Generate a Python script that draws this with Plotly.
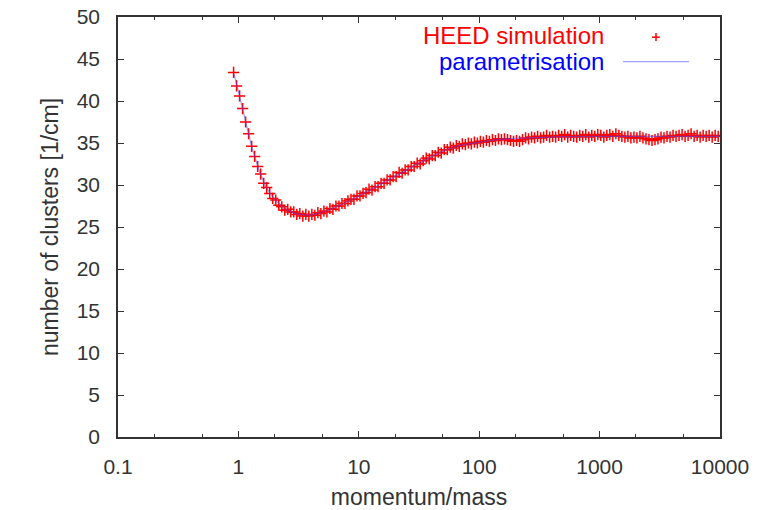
import plotly.graph_objects as go

# ---------------- data ----------------
# HEED simulation: momentum/mass values (log-spaced samples) and cluster counts
heed_x = [0.912, 0.966,
          1.023, 1.084, 1.148, 1.216, 1.288, 1.365, 1.445, 1.531, 1.622, 1.718,
          1.820, 1.928, 2.042, 2.163, 2.291, 2.427, 2.570, 2.723, 2.884, 3.055,
          3.236, 3.428, 3.631, 3.846, 4.074, 4.315, 4.571, 4.842, 5.129, 5.433,
          5.754, 6.095, 6.457, 6.839, 7.244, 7.674, 8.128, 8.610, 9.120, 9.661,
          10.23, 10.84, 11.48, 12.16, 12.88, 13.65, 14.45, 15.31, 16.22, 17.18,
          18.20, 19.28, 20.42, 21.63, 22.91, 24.27, 25.70, 27.23, 28.84, 30.55,
          32.36, 34.28, 36.31, 38.46, 40.74, 43.15, 45.71, 48.42, 51.29, 54.33,
          57.54, 60.95, 64.57, 68.39, 72.44, 76.74, 81.28, 86.10, 91.20, 96.61,
          102.3, 108.4, 114.8, 121.6, 128.8, 136.5, 144.5, 153.1, 162.2, 171.8,
          182.0, 192.8, 204.2, 216.3, 229.1, 242.7, 257.0, 272.3, 288.4, 305.5,
          323.6, 342.8, 363.1, 384.6, 407.4, 431.5, 457.1, 484.2, 512.9, 543.3,
          575.4, 609.5, 645.7, 683.9, 724.4, 767.4, 812.8, 861.0, 912.0, 966.1,
          1023, 1084, 1148, 1216, 1288, 1365, 1445, 1531, 1622, 1718,
          1820, 1928, 2042, 2163, 2291, 2427, 2570, 2723, 2884, 3055,
          3236, 3428, 3631, 3846, 4074, 4315, 4571, 4842, 5129, 5433,
          5754, 6095, 6457, 6839, 7244, 7674, 8128, 8610, 9120, 9661]

heed_y = [43.4, 41.8,
          40.6, 39.1, 37.5, 36.1, 34.6, 33.4, 32.2, 31.3, 30.2, 29.7,
          29.0, 28.4, 28.2, 27.6, 27.4, 27.0, 27.1, 26.8, 26.8, 26.5,
          26.6, 26.3, 26.5, 26.3, 26.5, 26.4, 26.7, 26.6, 26.9, 26.8,
          27.2, 27.1, 27.5, 27.5, 27.8, 27.8, 28.1, 28.3, 28.3, 28.7,
          28.7, 29.0, 29.1, 29.5, 29.4, 29.8, 29.8, 30.2, 30.2, 30.6,
          30.6, 31.0, 31.0, 31.5, 31.4, 31.8, 31.8, 32.2, 32.2, 32.6,
          32.5, 32.9, 33.2, 33.1, 33.5, 33.5, 33.9, 33.8, 34.2, 34.2,
          34.5, 34.4, 34.7, 34.6, 34.9, 34.8, 35.0, 34.9, 35.1, 35.0,
          35.2, 35.1, 35.3, 35.2, 35.4, 35.3, 35.5, 35.4, 35.5, 35.4,
          35.3, 35.2, 35.3, 35.2, 35.4, 35.6, 35.5, 35.7, 35.6, 35.8,
          35.6, 35.7, 35.9, 35.7, 35.8, 35.7, 35.9, 35.8, 36.0, 35.7,
          35.9, 35.8, 35.7, 35.9, 35.8, 36.0, 35.7, 35.9, 35.8, 36.0,
          35.9, 35.7, 35.9, 36.0, 35.8, 36.1, 35.9, 35.8, 35.7, 35.8,
          35.6, 35.7, 35.6, 35.8, 35.6, 35.5, 35.4, 35.3, 35.4, 35.5,
          35.7, 35.6, 35.8, 35.7, 35.9, 35.8, 35.9, 36.0, 35.8, 35.9,
          36.1, 35.8, 35.9, 35.7, 35.9, 35.8, 35.9, 35.7, 35.9, 35.8]

# Parametrisation (smooth curve)
par_x = [0.92, 1.0, 1.1, 1.2, 1.3, 1.5, 1.7, 2.0, 2.5, 3.0, 3.5, 4.0, 5.0, 6.0,
         7.0, 8.0, 10, 12, 15, 20, 25, 30, 40, 50, 70, 100, 150, 200, 300, 500,
         1000, 2000, 5000, 10000]
par_y = [43.2, 41.2, 38.7, 36.4, 34.4, 31.55, 29.7, 28.25, 27.05, 26.6, 26.45,
         26.42, 26.75, 27.2, 27.6, 28.0, 28.7, 29.3, 30.05, 31.05, 31.8, 32.45,
         33.35, 34.05, 34.75, 35.1, 35.45, 35.55, 35.65, 35.75, 35.8, 35.8,
         35.8, 35.8]

x_tickvals = [0.1, 1, 10, 100, 1000, 10000]
x_ticktext = ["0.1", "1", "10", "100", "1000", "10000"]
y_tickvals = [0, 5, 10, 15, 20, 25, 30, 35, 40, 45, 50]

series_names = ["HEED simulation", "parametrisation"]

# ---------------- figure ----------------
FONT = "Liberation Sans, Arial, sans-serif"
RED = "#ff0000"
BLUE = "#0000ff"
INK = "#333333"

fig = go.Figure()
fig.add_trace(go.Scatter(
    x=heed_x, y=heed_y, mode="markers", name=series_names[0],
    marker=dict(symbol="cross-thin", size=8, color=RED,
                line=dict(color=RED, width=1.5)),
    showlegend=False))
fig.add_trace(go.Scatter(
    x=par_x, y=par_y, mode="lines", name=series_names[1],
    line=dict(color="rgba(70,70,255,0.55)", width=1.2),
    showlegend=False))

axis_common = dict(showgrid=False, zeroline=False, showline=True,
                   linecolor=INK, linewidth=1.5, mirror="allticks",
                   ticks="inside", tickcolor=INK, tickwidth=1.2,
                   ticklen=6, automargin=False,
                   tickfont=dict(family=FONT, size=21, color=INK))

fig.update_xaxes(type="log", range=[-1, 4], tickvals=x_tickvals,
                 ticktext=x_ticktext, ticklabelstandoff=10,
                 minor=dict(ticks="inside", ticklen=3, tickcolor=INK,
                            tickwidth=1, showgrid=False),
                 title=dict(text="momentum/mass",
                            font=dict(family=FONT, size=23, color=INK),
                            standoff=14),
                 **axis_common)
fig.update_yaxes(range=[0, 50], tickvals=y_tickvals, ticklabelstandoff=12,
                 title=dict(text="number of clusters [1/cm]",
                            font=dict(family=FONT, size=23, color=INK),
                            standoff=12),
                 **axis_common)

# gnuplot-style key (text right-aligned, sample to the right)
fig.add_annotation(xref="paper", yref="paper", x=0.8106, y=0.9548,
                   xanchor="right", yanchor="middle", showarrow=False,
                   text=series_names[0],
                   font=dict(family=FONT, size=24, color=RED))
fig.add_annotation(xref="paper", yref="paper", x=0.8106, y=0.895,
                   xanchor="right", yanchor="middle", showarrow=False,
                   text=series_names[1],
                   font=dict(family=FONT, size=24, color=BLUE))
fig.add_shape(type="line", xref="paper", yref="paper",
              x0=0.887, x1=0.900, y0=0.952, y1=0.952,
              line=dict(color=RED, width=1.5))
fig.add_shape(type="line", xref="paper", yref="paper",
              x0=0.8937, x1=0.8937, y0=0.943, y1=0.962,
              line=dict(color=RED, width=1.5))
fig.add_shape(type="line", xref="paper", yref="paper",
              x0=0.839, x1=0.9485, y0=0.8936, y1=0.8936,
              line=dict(color="#a0a0ff", width=1.2))

fig.update_layout(width=758, height=510,
                  margin=dict(l=118, r=38, t=17, b=73),
                  plot_bgcolor="white", paper_bgcolor="white",
                  font=dict(family=FONT, color=INK))

fig.write_html("out.html",
               config={"displayModeBar": False},
               post_script="document.body.style.margin='0';"
                           "document.body.style.overflow='hidden';")
